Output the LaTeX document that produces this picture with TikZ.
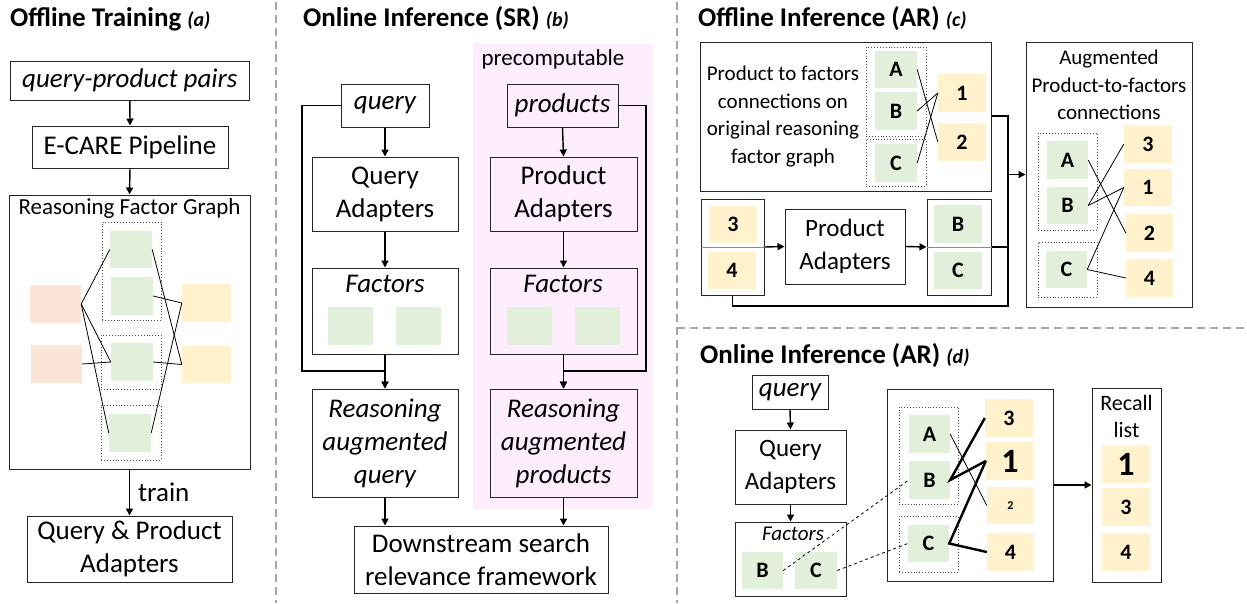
\documentclass[tikz,border=0pt]{standalone}
\usepackage{fontspec}
\setmainfont{Carlito}
\usetikzlibrary{arrows.meta}
\definecolor{grn}{HTML}{E2EFDA}
\definecolor{ylw}{HTML}{FFF2CC}
\definecolor{slm}{HTML}{FBE5D6}
\definecolor{pnk}{HTML}{FDEDFD}
\definecolor{sepc}{HTML}{A6A6A6}
\newcommand\fM{\fontsize{27}{33}\selectfont}
\newcommand\fL{\fontsize{25}{33}\selectfont}
\newcommand\fT{\fontsize{23}{28}\selectfont}
\newcommand\fS{\fontsize{21}{27.5}\selectfont}
\newcommand\fR{\fontsize{22}{27}\selectfont}
\newcommand\fN{\fontsize{22}{26}\selectfont\bfseries}
\newcommand\fBig{\fontsize{34}{36}\selectfont\bfseries}
\newcommand\fTiny{\fontsize{12}{14}\selectfont\bfseries}
\newcommand\fTitle{\fontsize{27}{32}\selectfont\bfseries}
\newcommand\fSub{\fontsize{20}{24}\selectfont\bfseries\itshape}
\newcommand\bx[7][]{\node[minimum width={(#5-(#3))*1pt},minimum height={(#6-(#4))*1pt},inner sep=0pt,align=center,#1] (#2) at ({(#3+#5)/2},{(#4+#6)/2}) {#7};}
\tikzset{
  frame/.style={draw=black!85,line width=1pt},
  grnbox/.style={fill=grn},
  ylwbox/.style={fill=ylw},
  slmbox/.style={fill=slm},
  grp/.style={draw=black!70,dotted,line width=0.9pt},
  conn/.style={line width=1.4pt,-{Triangle[length=7pt,width=7pt]}},
  plain/.style={line width=1.4pt},
  edge1/.style={line width=0.8pt},
  edge3/.style={line width=2.4pt},
  dashline/.style={dashed,line width=0.8pt},
  sepline/.style={draw=sepc,line width=1.5pt,dash pattern=on 8pt off 5pt},
}
\begin{document}
\begin{tikzpicture}[x=1pt,y=-1pt]
\useasboundingbox (0,0) rectangle (1247,603);
% separators
\draw[sepline] (276,2) -- (276,603);
\draw[sepline] (677,2) -- (677,603);
\draw[sepline] (677,328) -- (1247,328);

% ===== (a) =====
\node[anchor=base west,inner sep=0] (ta) at (10,26) {\fTitle Offline Training {\fSub(a)}};
\bx[frame,font=\fM\itshape]{qp}{10.7}{61}{249}{100}{query-product pairs}
\bx[frame,font=\fM]{ecare}{32}{126}{228}{168}{E-CARE Pipeline}
\bx[frame]{rfg}{9}{195}{250}{469}{}
\node[anchor=base,inner sep=0,font=\fT] (rfgl) at (129.5,214) {Reasoning Factor Graph};
\bx[frame,font=\fM]{qpa}{27}{516}{232}{582}{Query \& Product\\Adapters}
\draw[conn] (qp.south) -- (ecare.north);
\draw[conn] (ecare.south) -- (rfg.north);
\draw[conn] (rfg.south) -- (qpa.north) node[midway,right=8pt,inner sep=0,font=\fM] (train) {train};
\bx[grp]{ga1}{102}{222}{161}{320}{}
\bx[grp]{ga2}{101}{335}{161}{389}{}
\bx[grp]{ga3}{101}{405}{161}{460}{}
\bx[grnbox]{g1}{110}{231}{152}{268}{}
\bx[grnbox]{g2}{111}{277}{153}{315}{}
\bx[grnbox]{g3}{111}{343}{153}{381}{}
\bx[grnbox]{g4}{109}{414}{151}{452}{}
\bx[slmbox]{s1}{30}{285}{81}{323}{}
\bx[slmbox]{s2}{31}{345}{82}{383}{}
\bx[ylwbox]{y1}{182}{284}{231}{322}{}
\bx[ylwbox]{y2}{182}{346}{231}{383}{}
\draw[edge1] (s1.east) -- (g1.west);
\draw[edge1] (s1.east) -- (g3.west);
\draw[edge1] (s1.east) -- (g4.west);
\draw[edge1] (s2.east) -- (g3.west);
\draw[edge1] (g1.east) -- (y2.west);
\draw[edge1] (g2.east) -- (y1.west);
\draw[edge1] (g3.east) -- (y2.west);
\draw[edge1] (g4.east) -- (y1.west);

% ===== (b) =====
\node[anchor=base west,inner sep=0] (tb) at (303,26) {\fTitle Online Inference (SR) {\fSub(b)}};
\bx[fill=pnk]{pink}{473}{43}{653}{509}{}
\node[anchor=base,inner sep=0,font=\fT] (pre) at (553,65) {precomputable};
\bx[frame,font=\fM\itshape]{q}{341}{84}{429}{127}{query}
\bx[frame,fill=pnk,font=\fM\itshape]{p}{507}{84}{618}{127}{products}
\bx[frame,font=\fM]{qa}{312}{157}{458}{231}{Query\\Adapters}
\bx[frame,fill=pnk,font=\fM]{pa}{490}{157}{637}{231}{Product\\Adapters}
\bx[frame]{qf}{312}{268}{458}{354}{}
\bx[frame,fill=pnk]{pf}{490}{268}{637}{354}{}
\node[anchor=base,inner sep=0,font=\fM\itshape] (qfl) at (385,292) {Factors};
\node[anchor=base,inner sep=0,font=\fM\itshape] (pfl) at (563,292) {Factors};
\bx[grnbox]{qf1}{328}{307}{373}{345}{}
\bx[grnbox]{qf2}{396}{307}{441}{345}{}
\bx[grnbox]{pf1}{507}{307}{552}{345}{}
\bx[grnbox]{pf2}{575}{307}{620}{345}{}
\bx[frame,font=\fM\itshape]{rq}{312}{389}{458}{497}{Reasoning\\augmented\\query}
\bx[frame,fill=pnk,font=\fM\itshape]{rp}{490}{389}{637}{497}{Reasoning\\augmented\\products}
\bx[frame,font=\fM]{ds}{354}{526}{608}{593}{Downstream search\\relevance framework}
\draw[conn] (q.south) -- (qa.north);
\draw[conn] (qa.south) -- (qf.north);
\draw[conn] (qf.south) -- (rq.north);
\draw[conn] (q.west) -| (302,371) -| (rq.north);
\draw[conn] (p.south) -- (pa.north);
\draw[conn] (pa.south) -- (pf.north);
\draw[conn] (pf.south) -- (rp.north);
\draw[conn] (p.east) -| (646,371) -| (rp.north);
\draw[conn] (rq.south) -- (rq.south |- ds.north);
\draw[conn] (rp.south) -- (rp.south |- ds.north);

% ===== (c) =====
\node[anchor=base west,inner sep=0] (tc) at (698,26) {\fTitle Offline Inference (AR) {\fSub(c)}};
\bx[frame]{c1}{700}{42}{991}{191}{}
\node[align=center,inner sep=0,font=\fS] (c1t) at (783,116.5) {Product to factors\\connections on\\original reasoning\\factor graph};
\bx[grp]{cg1}{866}{47}{926}{136}{}
\bx[grp]{cg2}{866}{139}{926}{186}{}
\bx[grnbox,font=\fN]{cA}{875}{51}{917}{88}{A}
\bx[grnbox,font=\fN]{cB}{875}{92}{917}{130}{B}
\bx[grnbox,font=\fN]{cC}{875}{144}{917}{182}{C}
\bx[ylwbox,font=\fN]{c1y}{938}{74}{986}{112}{1}
\bx[ylwbox,font=\fN]{c2y}{938}{123}{986}{161}{2}
\draw[edge1] (cA.east) -- (c2y.west);
\draw[edge1] (cB.east) -- (c1y.west);
\draw[edge1] (cC.east) -- (c1y.west);
\bx[frame]{c34}{701}{199}{764}{295}{}
\bx[ylwbox,font=\fN]{c3}{709}{206}{757}{243}{3}
\bx[ylwbox,font=\fN]{c4}{708}{252}{756}{289}{4}
\draw[draw=black!45,line width=0.8pt] (c34.west) -- (c34.east);
\bx[frame,font=\fL]{cpa}{785}{209}{905}{284}{Product\\Adapters}
\bx[frame]{cbc}{927}{199}{991}{295}{}
\bx[grnbox,font=\fN]{cbB}{934}{205}{982}{243}{B}
\bx[grnbox,font=\fN]{cbC}{934}{252}{982}{289}{C}
\draw[draw=black!45,line width=0.8pt] (cbc.west) -- (cbc.east);
\draw[conn] (c34.east) -- (cpa.west);
\draw[conn] (cpa.east) -- (cbc.west);
\coordinate (jc) at (1008,174.5);
\draw[plain] (c1.east |- 0,116) -- (1008,116) -- (1008,306) -| (c34.south);
\draw[plain] (cbc.east) -- (1008,247);
\bx[frame]{aug}{1026}{42}{1192}{307}{}
\draw[conn] (jc) -- (aug.west);
\node[align=center,inner sep=0,font=\fS] (augt) at (1109,85) {Augmented\\Product-to-factors\\connections};
\bx[grp]{ag1}{1038}{133}{1097}{230}{}
\bx[grp]{ag2}{1038}{242}{1097}{297}{}
\bx[grnbox,font=\fN]{aA}{1047}{141}{1088}{179}{A}
\bx[grnbox,font=\fN]{aB}{1047}{187}{1088}{224}{B}
\bx[grnbox,font=\fN]{aC}{1046}{251}{1087}{288}{C}
\bx[ylwbox,font=\fN]{a3}{1124}{125}{1172}{163}{3}
\bx[ylwbox,font=\fN]{a1}{1124}{169}{1172}{206}{1}
\bx[ylwbox,font=\fN]{a2}{1126}{214}{1173}{252}{2}
\bx[ylwbox,font=\fN]{a4}{1126}{259}{1173}{297}{4}
\draw[edge1] (aA.east) -- (a2.west);
\draw[edge1] (aB.east) -- (a3.west);
\draw[edge1] (aB.east) -- (a1.west);
\draw[edge1] (aC.east) -- (a1.west);
\draw[edge1] (aC.east) -- (a4.west);

% ===== (d) =====
\node[anchor=base west,inner sep=0] (td) at (700,363) {\fTitle Online Inference (AR) {\fSub(d)}};
\bx[frame,font=\fM\itshape]{dq}{752}{375}{828}{409}{query}
\bx[frame,font=\fL]{dqa}{735}{430}{846}{504}{Query\\Adapters}
\bx[frame]{dfac}{735}{522}{846}{596}{}
\node[anchor=base,inner sep=0,font=\fS\itshape] (dfacl) at (793,540) {Factors};
\bx[grnbox,font=\fN]{dfB}{742}{552}{783}{589}{B}
\bx[grnbox,font=\fN]{dfC}{795}{552}{837}{589}{C}
\draw[conn] (dq.south) -- (dqa.north);
\draw[conn] (dqa.south) -- (dfac.north);
\bx[frame]{dbig}{887}{389}{1053}{581}{}
\bx[grp]{dg1}{899}{407}{958}{504}{}
\bx[grp]{dg2}{899}{516}{958}{572}{}
\bx[grnbox,font=\fN]{dA}{909}{415}{950}{453}{A}
\bx[grnbox,font=\fN]{dB}{909}{461}{950}{499}{B}
\bx[grnbox,font=\fN]{dC}{908}{525}{949}{562}{C}
\bx[ylwbox,font=\fN]{d3}{985}{399}{1033}{437}{3}
\bx[ylwbox,font=\fBig]{d1}{986}{442}{1034}{480}{1}
\bx[ylwbox,font=\fTiny]{d2}{987}{487}{1034}{524}{2}
\bx[ylwbox,font=\fN]{d4}{987}{533}{1034}{571}{4}
\draw[edge1] (dA.east) -- (d2.west);
\draw[edge3] (d3.west) -- (dB.east) -- (d1.west);
\draw[edge3] (d1.west) -- (dC.east) -- (d4.west);
\draw[dashline] (dfB.east) -- (dB.west);
\draw[dashline] (dfC.east) -- (dC.west);
\bx[frame]{rec}{1092}{388}{1161}{582}{}
\node[align=center,inner sep=0,font=\fR] (recl) at (1126.5,416.5) {Recall\\list};
\bx[ylwbox,font=\fBig]{r1}{1102}{445}{1150}{483}{1}
\bx[ylwbox,font=\fN]{r3}{1102}{488}{1150}{526}{3}
\bx[ylwbox,font=\fN]{r4}{1102}{533}{1150}{571}{4}
\draw[conn] (dbig.east) -- (rec.west);
\end{tikzpicture}
\end{document}
